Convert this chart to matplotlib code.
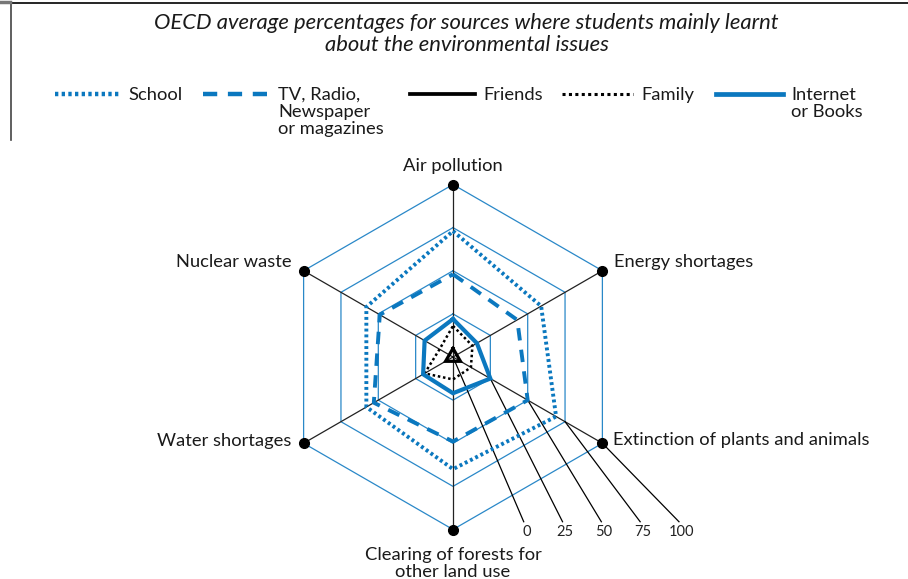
import numpy as np
import matplotlib
matplotlib.use("Agg")
import matplotlib.pyplot as plt

plt.rcParams['font.family'] = ['Lato', 'DejaVu Sans']

# datos (porcentajes)
categorias = ["Air pollution", "Energy shortages", "Extinction of plants and animals",
              "Clearing of forests for\nother land use", "Water shortages", "Nuclear waste"]
school = [73, 59, 69, 65, 58, 58]
tv_radio = [48, 43, 50, 49, 53, 49]
friends = [5, 2.5, 5, 2.5, 5, 2.5]
family = [18, 13, 12, 13, 19, 9]
internet = [22, 16, 25, 21, 20, 19]
escala = [0, 25, 50, 75, 100]

titulo = "OECD average percentages for sources where students mainly learnt\nabout the environmental issues"
nombres_leyenda = ["School", "TV, Radio,\nNewspaper\nor magazines", "Friends", "Family", "Internet\nor Books"]

azul = '#0b78bf'
azul_grid = '#2a88c8'

# estilos de cada serie (mismo orden que la leyenda)
series = [school, tv_radio, friends, family, internet]
estilos = [
    dict(color=azul, lw=2.8, ls=(0, (0.75, 0.75))),
    dict(color=azul, lw=2.8, ls=(0, (3.2, 2.4))),
    dict(color='black', lw=2.3, ls='-'),
    dict(color='black', lw=1.8, ls=(0, (1, 1.1))),
    dict(color=azul, lw=3.0, ls='-'),
]

angulos = np.deg2rad(90 - 60 * np.arange(len(categorias)))

def a_xy(valores):
    v = np.array(valores, dtype=float)
    x = v * np.cos(angulos)
    y = v * np.sin(angulos)
    return np.append(x, x[0]), np.append(y, y[0])

fig = plt.figure(figsize=(9.08, 5.79), dpi=100)
ax = fig.add_axes([0, 0, 1, 1])
esc = 1.725  # pixeles por unidad
ax.set_xlim(-453 / esc, (908 - 453) / esc)
ax.set_ylim(-(579 - 357) / esc, 357 / esc)
ax.axis('off')

# anillos hexagonales
for r in escala[1:]:
    gx, gy = a_xy([r] * len(categorias))
    ax.plot(gx, gy, color=azul_grid, lw=0.9, zorder=1)

# ejes
for a in angulos:
    ax.plot([0, 100 * np.cos(a)], [0, 100 * np.sin(a)], color='#222222', lw=0.9, zorder=2)

# lineas de la escala hacia las etiquetas
ang_ext = angulos[2]
fin_x = np.linspace(41, 131, len(escala))
for i, v in enumerate(escala):
    x0, y0 = v * np.cos(ang_ext), v * np.sin(ang_ext)
    ax.plot([x0, fin_x[i]], [y0, -95.5], color='black', lw=0.9, zorder=2)
    ax.text(fin_x[i] + 1.5, -97.5, str(v), ha='center', va='top', fontsize=10.5, color='#222222')

# series
for datos, est in zip(series, estilos):
    sx, sy = a_xy(datos)
    ax.plot(sx, sy, color=est['color'], lw=est['lw'], linestyle=est['ls'],
            solid_joinstyle='miter', zorder=4)

# puntos en los extremos
px, py = a_xy([100] * len(categorias))
ax.plot(px[:-1], py[:-1], 'o', color='black', ms=7, zorder=5)

# etiquetas de categorias
desplaz = [(0, 6, 'center', 'bottom'), (6.5, 5, 'left', 'center'), (6, 2, 'left', 'center'),
           (0, -10, 'center', 'top'), (-7, 1.5, 'right', 'center'), (-7, 5, 'right', 'center')]
for i, nombre in enumerate(categorias):
    dx, dy, ha, va = desplaz[i]
    ax.text(px[i] + dx, py[i] + dy, nombre, ha=ha, va=va, fontsize=13.2,
            color='#1a1a1a', linespacing=1.07)

# titulo
fig.text(0.514, 1 - 13 / 579, titulo, ha='center', va='top', fontsize=15.8, style='italic',
         color='#1a1a1a', linespacing=1.1)

# leyenda hecha a mano
x_lineas = [55, 203, 410, 562, 716]
largo = [65, 67, 65, 71, 67]
y_ley = 1 - 94 / 579
for i, nombre in enumerate(nombres_leyenda):
    est = estilos[i]
    x0 = x_lineas[i] / 908
    x1 = (x_lineas[i] + largo[i]) / 908
    ax.plot([x0, x1], [y_ley, y_ley], transform=ax.transAxes, color=est['color'],
            lw=est['lw'] + 0.4, linestyle=est['ls'])
    ax.text(x1 + 8 / 908, y_ley + 7 / 579, nombre, transform=ax.transAxes, ha='left', va='top',
            fontsize=13.2, color='#1a1a1a', linespacing=1.07)

# marco superior
ax.plot([10 / 908, 1], [1 - 3 / 579, 1 - 3 / 579], transform=ax.transAxes, color='black', lw=1.2)
ax.plot([10.5 / 908, 10.5 / 908], [1 - 3 / 579, 1 - 140 / 579], transform=ax.transAxes,
        color='#444444', lw=1.2)
ax.plot([0, 10 / 908], [1 - 1.5 / 579, 1 - 1.5 / 579], transform=ax.transAxes, color='#777777', lw=2.5)

fig.savefig("out.png", dpi=100)
